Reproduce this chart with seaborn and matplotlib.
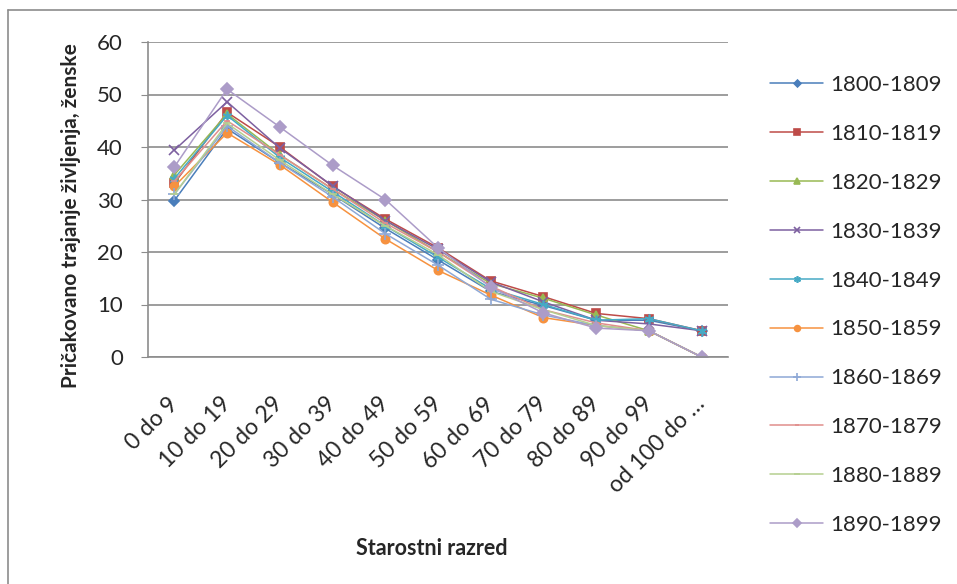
import numpy as np
import pandas as pd
import matplotlib
matplotlib.use('Agg')
import matplotlib.pyplot as plt
import seaborn as sns
from matplotlib.lines import Line2D

# Podatki
razredi = ['0 do 9', '10 do 19', '20 do 29', '30 do 39', '40 do 49', '50 do 59',
           '60 do 69', '70 do 79', '80 do 89', '90 do 99', 'od 100 do …']
obdobja = ['1800-1809', '1810-1819', '1820-1829', '1830-1839', '1840-1849',
           '1850-1859', '1860-1869', '1870-1879', '1880-1889', '1890-1899']

v1800 = [29.8, 43.5, 37.0, 31.0, 24.5, 18.5, 12.5, 9.8, 7.0, 7.0, 5.0]
v1810 = [33.1, 46.6, 40.0, 32.5, 26.3, 20.8, 14.5, 11.5, 8.3, 7.3, 5.0]
v1820 = [34.7, 46.3, 38.5, 32.0, 26.0, 20.0, 14.0, 11.2, 8.0, 5.0, 0.0]
v1830 = [39.4, 48.6, 39.8, 32.6, 26.0, 20.5, 14.3, 10.5, 7.0, 6.3, 5.0]
v1840 = [34.0, 46.0, 38.0, 31.5, 25.0, 19.0, 13.0, 10.0, 7.0, 7.3, 5.0]
v1850 = [32.5, 42.7, 36.6, 29.5, 22.5, 16.5, 11.8, 7.5, 6.0, 5.0, 0.0]
v1860 = [31.0, 44.0, 37.0, 30.5, 23.5, 17.5, 11.0, 8.0, 6.0, 5.0, 0.0]
v1870 = [33.5, 45.0, 38.5, 32.0, 25.5, 20.0, 13.5, 9.0, 6.5, 5.0, 0.0]
v1880 = [31.0, 44.5, 37.5, 31.0, 25.0, 19.5, 12.5, 9.0, 6.0, 5.0, 0.0]
v1890 = [36.2, 51.0, 43.8, 36.5, 30.0, 20.8, 13.3, 8.4, 5.5, 5.0, 0.0]

vrednosti = [v1800, v1810, v1820, v1830, v1840, v1850, v1860, v1870, v1880, v1890]
barve = ['#4A7EBB', '#BE4B48', '#98B954', '#7D60A0', '#46AAC5',
         '#F69240', '#8EA8D6', '#E08E8C', '#B5CF8F', '#AC9CC8']
markerji = ['D', 's', '^', 'x', (6, 2, 0), 'o', '+', '_', '_', 'D']
velikosti = [5, 6, 6, 7, 7, 6, 8, 5, 6, 6]

df = pd.DataFrame({
    'razred': razredi * len(obdobja),
    'leta': np.concatenate(vrednosti),
    'obdobje': np.repeat(obdobja, len(razredi)),
})

sns.set_style('white')
plt.rcParams['font.family'] = ['Lato', 'DejaVu Sans']

fig = plt.figure(figsize=(9.57, 5.84), dpi=100)
ax = fig.add_axes([148 / 957, 1 - 357 / 584, 580 / 957, 315 / 584])

for obd, c, m, ms in zip(obdobja, barve, markerji, velikosti):
    sub = df[df['obdobje'] == obd]
    sns.lineplot(data=sub, x='razred', y='leta', ax=ax, color=c, marker=m,
                 markersize=ms, markeredgecolor=c, markeredgewidth=1.2,
                 linewidth=1.1, label=obd, sort=False)

ax.set_xlim(-0.5, len(razredi) - 0.5)
ax.set_ylim(0, 60)
ax.set_yticks(range(0, 61, 10))
ax.yaxis.grid(True, color='#8C8C8C', linewidth=1.2)
ax.set_axisbelow(True)
for s in ['top', 'right']:
    ax.spines[s].set_visible(False)
for s in ['left', 'bottom']:
    ax.spines[s].set_color('#8C8C8C')
    ax.spines[s].set_linewidth(1.2)

ax.tick_params(axis='y', left=True, length=5, color='#8C8C8C', labelsize=16, pad=13)
ax.tick_params(axis='x', bottom=False, labelsize=16.5, pad=28)
plt.setp(ax.get_xticklabels(), rotation=45, ha='right', va='center', rotation_mode='anchor')

ax.set_xlabel('Starostni razred', fontsize=15.5, fontweight='bold')
ax.xaxis.set_label_coords(0.49, -0.575)
ax.set_ylabel('Pričakovano trajanje življenja, ženske', fontsize=15, fontweight='bold')
ax.yaxis.set_label_coords(-0.115, 0.45)

ax.get_legend().remove()
h, l = ax.get_legend_handles_labels()
fig.legend(h, l, loc='upper left', bbox_to_anchor=(750 / 957, 1 - 55 / 584),
           frameon=False, fontsize=16, handlelength=2.4, handletextpad=0.3,
           labelspacing=1.3, markerscale=0.7)

# okvir grafikona (levi in zgornji rob)
fig.lines.append(Line2D([8 / 957, 8 / 957], [0, 1 - 10 / 584], transform=fig.transFigure,
                        color='#8C8C8C', linewidth=1.2))
fig.lines.append(Line2D([8 / 957, 1], [1 - 10 / 584, 1 - 10 / 584], transform=fig.transFigure,
                        color='#8C8C8C', linewidth=1.2))

fig.savefig('out.png', dpi=100)
